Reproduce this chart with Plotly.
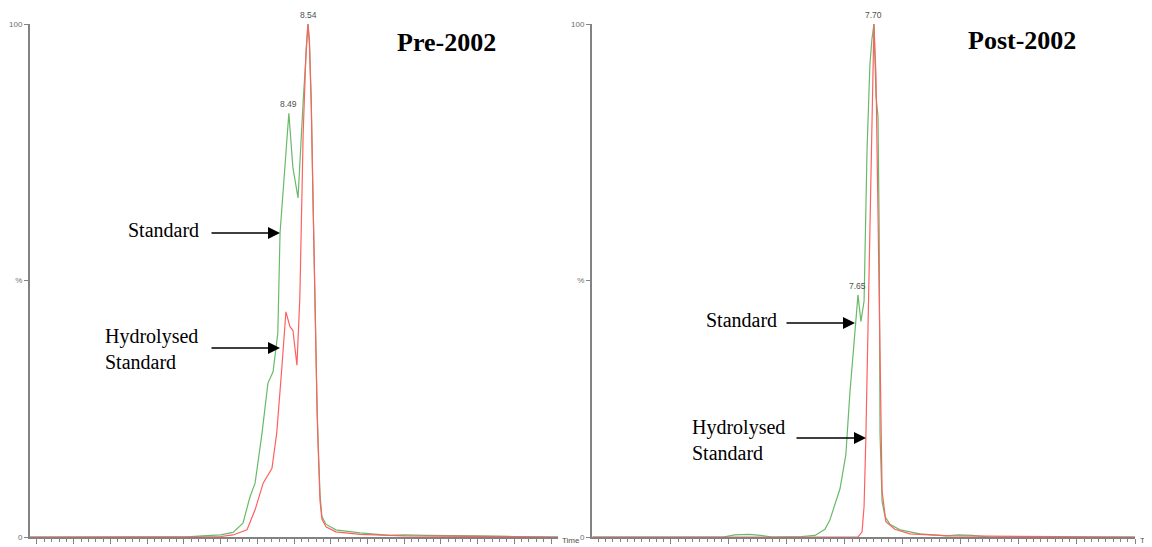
import plotly.graph_objects as go

# ---------------- data ----------------
# Pre-2002 panel (time in min, intensity in %)
pre_std_t = [7.78, 8.20, 8.25, 8.30, 8.334, 8.361, 8.380, 8.394, 8.413, 8.429, 8.443, 8.456, 8.462,
             8.475, 8.486, 8.497, 8.511, 8.525, 8.538, 8.542, 8.547, 8.552, 8.557, 8.563, 8.566,
             8.571, 8.576, 8.587, 8.614, 8.68, 8.76, 8.80, 8.86, 8.92, 9.00, 9.10, 9.22]
pre_std_y = [0.0, 0.0, 0.2, 0.4, 0.9, 2.7, 7.8, 10.5, 20.3, 30.0, 32.2, 39.8, 59.3,
             72.1, 82.6, 72.0, 66.1, 85.0, 100.0, 97.0, 85.0, 65.0, 45.0, 25.0, 18.0,
             8.0, 4.0, 2.5, 1.4, 0.8, 0.3, 0.4, 0.3, 0.3, 0.2, 0.1, 0.0]
pre_hyd_t = [7.78, 8.25, 8.30, 8.334, 8.372, 8.394, 8.416, 8.440, 8.453, 8.467, 8.478, 8.489,
             8.497, 8.508, 8.516, 8.525, 8.533, 8.538, 8.542, 8.547, 8.552, 8.557, 8.563,
             8.566, 8.571, 8.576, 8.587, 8.614, 8.68, 8.80, 9.00, 9.22]
pre_hyd_y = [0.0, 0.0, 0.1, 0.4, 1.4, 5.3, 10.5, 13.4, 20.3, 33.1, 43.9, 41.0,
             40.3, 33.5, 46.8, 78.8, 95.0, 100.0, 96.0, 84.0, 64.0, 44.0, 24.0,
             17.0, 7.0, 3.5, 2.0, 1.0, 0.5, 0.2, 0.1, 0.0]

# Post-2002 panel
post_std_t = [6.73, 7.18, 7.22, 7.27, 7.31, 7.35, 7.45, 7.497, 7.531, 7.548, 7.583, 7.603, 7.617,
              7.628, 7.634, 7.645, 7.655, 7.666, 7.676, 7.686, 7.693, 7.700, 7.707, 7.714,
              7.718, 7.721, 7.728, 7.738, 7.755, 7.790, 7.859, 7.95, 7.99, 8.04, 8.10, 8.60]
post_std_y = [0.0, 0.0, 0.4, 0.5, 0.3, 0.0, 0.1, 0.3, 1.5, 3.3, 9.4, 16.0, 28.0,
              36.0, 40.0, 47.2, 42.0, 46.0, 75.0, 92.0, 97.0, 100.0, 86.0, 82.0,
              60.0, 20.0, 7.0, 4.0, 2.5, 1.4, 0.6, 0.2, 0.4, 0.3, 0.0, 0.0]
post_hyd_t = [6.73, 7.645, 7.659, 7.666, 7.672, 7.679, 7.686, 7.693, 7.700, 7.707, 7.714,
              7.721, 7.728, 7.741, 7.772, 7.824, 7.962, 8.60]
post_hyd_y = [0.0, 0.0, 1.0, 6.0, 19.0, 40.0, 62.0, 85.0, 100.0, 90.0, 60.0,
              30.0, 9.0, 3.0, 1.5, 0.6, 0.2, 0.0]

pre_ticks = [7.80, 7.90, 8.00, 8.10, 8.20, 8.30, 8.40, 8.50, 8.60, 8.70, 8.80, 8.90, 9.00, 9.10, 9.20]
post_ticks = [7.00, 7.20, 7.40, 7.60, 7.80, 8.00, 8.20, 8.40, 8.60]
y_tickvals = [0, 50, 100]
y_ticktext = ["0", "%", "100"]

pre_peaks = [(8.54, 100.0, "8.54"), (8.486, 82.6, "8.49")]
post_peaks = [(7.70, 100.0, "7.70"), (7.645, 47.2, "7.65")]

GREEN = "rgb(104,186,104)"
RED = "rgb(255,96,96)"
AX = "rgb(130,130,130)"
SERIF = "Liberation Serif, Times New Roman, serif"

W, H = 1152, 547
OFF = 8  # page body margin


def px(x):
    return (x - OFF) / W


def py(y):
    return 1 - (y - OFF) / H


fig = go.Figure()
fig.add_trace(go.Scatter(x=pre_std_t, y=pre_std_y, mode="lines", line=dict(color=GREEN, width=1.2),
                         xaxis="x", yaxis="y", showlegend=False))
fig.add_trace(go.Scatter(x=pre_hyd_t, y=pre_hyd_y, mode="lines", line=dict(color=RED, width=1.2),
                         xaxis="x", yaxis="y", showlegend=False))
fig.add_trace(go.Scatter(x=post_std_t, y=post_std_y, mode="lines", line=dict(color=GREEN, width=1.2),
                         xaxis="x2", yaxis="y2", showlegend=False))
fig.add_trace(go.Scatter(x=post_hyd_t, y=post_hyd_y, mode="lines", line=dict(color=RED, width=1.2),
                         xaxis="x2", yaxis="y2", showlegend=False))

ydom = [py(537), py(24)]
tickfont = dict(family="Arial", size=8, color="rgb(110,110,110)")


def xaxis(dom, rng, ticks, minor, anchor):
    return dict(domain=dom, range=rng, anchor=anchor, showgrid=False, zeroline=False,
                showline=True, linecolor=AX, linewidth=2, ticks="outside", ticklen=5,
                tickcolor=AX, tickvals=ticks, ticktext=[f"{t:.2f}" for t in ticks],
                tickfont=tickfont, automargin=False,
                minor=dict(dtick=minor, ticks="outside", ticklen=3, tickcolor=AX, showgrid=False))


def yaxis(anchor):
    return dict(domain=ydom, range=[0, 100], anchor=anchor, showgrid=False, zeroline=False,
                showline=True, linecolor=AX, linewidth=2, ticks="outside", ticklen=4,
                tickcolor=AX, tickvals=y_tickvals, ticktext=y_ticktext, tickfont=tickfont,
                automargin=False)


fig.update_layout(
    width=W, height=H, margin=dict(l=0, r=0, t=0, b=0),
    paper_bgcolor="white", plot_bgcolor="white",
    xaxis=xaxis([px(30), px(558)], [7.781, 9.219], pre_ticks, 0.02, "y"),
    yaxis=yaxis("x"),
    xaxis2=xaxis([px(592), px(1135)], [6.728, 8.60], post_ticks, 0.025, "y2"),
    yaxis2=yaxis("x2"),
)

ann = []
# titles
ann.append(dict(xref="paper", yref="paper", x=px(446), y=py(42), text="<b>Pre-2002</b>",
                showarrow=False, xanchor="center", yanchor="middle",
                font=dict(family=SERIF, size=26, color="black")))
ann.append(dict(xref="paper", yref="paper", x=px(1022), y=py(40), text="<b>Post-2002</b>",
                showarrow=False, xanchor="center", yanchor="middle",
                font=dict(family=SERIF, size=26, color="black")))
# peak labels
for (t, v, lab), xr, yr in [(p, "x", "y") for p in pre_peaks] + [(p, "x2", "y2") for p in post_peaks]:
    ann.append(dict(xref=xr, yref=yr, x=t, y=v, text=lab, showarrow=False, xanchor="center",
                    yanchor="bottom", yshift=2,
                    font=dict(family="Arial", size=8.5, color="rgb(80,80,80)")))
# Time labels
for tx in (560, 1138):
    ann.append(dict(xref="paper", yref="paper", x=px(tx), y=py(540), text="Time", showarrow=False,
                    xanchor="left", yanchor="middle",
                    font=dict(family="Arial", size=8, color="rgb(80,80,80)")))

tfont = dict(family=SERIF, size=20, color="black")
# text labels
for tx, ty, txt in [(126, 230, "Standard"), (103, 349, "Hydrolysed<br>Standard"),
                    (704, 320, "Standard"), (690, 440, "Hydrolysed<br>Standard")]:
    ann.append(dict(xref="paper", yref="paper", x=px(tx), y=py(ty), text=txt, showarrow=False,
                    xanchor="left", yanchor="middle", align="left", font=tfont))
# arrows
for hx, hy, tx in [(280, 233, 210), (280, 348, 210), (855, 323, 785), (866, 438, 795)]:
    ann.append(dict(xref="paper", yref="paper", x=px(hx), y=py(hy), ax=tx - hx, ay=0,
                    axref="pixel", ayref="pixel", text="", showarrow=True, arrowhead=2,
                    arrowsize=1.6, arrowwidth=1.5, arrowcolor="black"))

fig.update_layout(annotations=ann)
fig.write_html("out.html")
